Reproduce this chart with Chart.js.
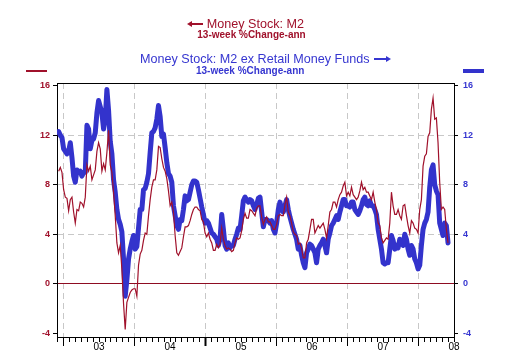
<!DOCTYPE html>
<html><head><meta charset="utf-8">
<script src="https://cdn.jsdelivr.net/npm/chart.js@4.4.1/dist/chart.umd.min.js"></script>
<style>
html,body{margin:0;padding:0;background:#fff;}
#wrap{position:relative;width:510px;height:360px;overflow:hidden;font-family:'Liberation Sans',Arial,Helvetica,sans-serif;}
canvas{position:absolute;left:0;top:0;}
.t{position:absolute;white-space:nowrap;line-height:1;}
.red{color:#a0112b;}
.blue{color:#3636d0;}
.big{font-size:12.6px;}
.small{font-size:10px;font-weight:bold;}
.ln{position:absolute;}
.head{position:absolute;width:0;height:0;border-top:3px solid transparent;border-bottom:3px solid transparent;}
</style></head><body>
<div id="wrap">
<canvas id="c" width="510" height="360"></canvas>
<div class="ln" style="left:190px;top:23.3px;width:13px;height:1.4px;background:#a0112b"></div>
<div class="head" style="left:187px;top:20.8px;border-right:5px solid #a0112b"></div>
<div class="t red big" style="left:206.7px;top:17.5px">Money Stock: M2</div>
<div class="t red small" style="left:197.3px;top:30.3px">13-week %Change-ann</div>
<div class="t blue big" style="left:140px;top:52.5px">Money Stock: M2 ex Retail Money Funds</div>
<div class="ln" style="left:374px;top:58.3px;width:12px;height:1.4px;background:#3636d0"></div>
<div class="head" style="left:386px;top:56px;border-left:5px solid #3636d0"></div>
<div class="t blue small" style="left:196px;top:65.6px">13-week %Change-ann</div>
<div class="ln" style="left:26px;top:70.4px;width:21px;height:1.2px;background:#a0112b"></div>
<div class="ln" style="left:463px;top:69px;width:21px;height:4px;background:#3333cc"></div>
</div>
<script>
// Sample dates (decimal years), roughly every 8.6 days from early Dec 2002
const firstSample = 2002.9302;
const sampleStep = 0.023443;

// Money Stock: M2, 13-week % change annualized (left axis)
const m2Values = [
  9.1,9.4,9.0,7.6,7.0,6.9,5.9,6.8,7.0,5.8, 4.9,6.0,5.9,6.6,6.5,6.2,7.0,9.6,9.1,9.5,
  8.4,8.8,9.2,10.7,11.4,10.9,9.1,9.7,9.2,10.6, 12.4,9.6,9.0,7.4,5.5,3.3,2.5,3.1,1.2,-1.6,
  -3.7,-1.5,-1.1,-0.7,-0.5,-0.4,-0.4,-1.0,
  1.5,2.4,2.7,3.5,4.1,4.0,5.5,6.8,7.8,8.4, 8.4,9.2,11.1,11.0,10.1,9.4,9.1,8.5,7.5,6.3,
  6.6,5.8,3.9,2.5,2.3,2.6,2.9,3.8,4.6,4.6, 4.7,5.1,5.6,6.0,6.2,6.2,6.0,5.9,5.2,5.0,
  4.1,3.8,4.1,3.6,3.3,2.7,2.7,3.2,
  2.9,3.2,4.5,3.6,3.1,2.8,2.9,2.8,2.6,2.7, 3.3,3.7,3.6,3.7,4.3,5.2,5.7,5.3,5.3,6.0,
  5.9,5.7,5.5,6.1,6.3,6.3,5.4,4.8,5.2,5.4, 5.0,5.0,4.7,4.4,4.4,4.8,5.5,5.6,5.5,5.5,
  6.4,7.0,5.8,5.5,4.9,4.2,4.0,3.9,
  3.2,3.3,2.9,2.1,2.1,3.3,3.6,4.4,5.2,5.2, 4.1,4.4,4.7,4.5,4.7,4.9,4.4,3.7,4.7,5.8,
  6.0,6.6,6.6,6.2,6.8,7.2,7.4,7.9,8.2,7.1, 7.4,7.1,7.8,7.2,7.0,6.8,7.0,7.5,8.2,7.6,
  7.8,7.4,7.4,7.1,6.8,7.4,6.6,6.0,
  4.9,4.7,3.7,3.3,3.5,3.7,3.6,4.9,7.4,6.3, 5.6,5.6,6.0,5.5,5.2,6.3,6.4,5.5,4.7,4.1,
  5.1,4.9,4.5,4.4,4.1,6.0,6.8,9.5,10.3,10.5, 11.9,12.2,14.1,15.0,13.3,13.4,11.4,8.2,6.0,6.2,
  6.0,4.4,3.3
];

// Money Stock: M2 ex Retail Money Funds, 13-week % change annualized (right axis)
const m2exValues = [
  12.3,12.0,11.8,10.9,10.7,10.5,10.7,11.4,10.2,8.7, 8.2,9.2,9.0,9.1,8.7,9.0,9.0,12.8,12.5,10.9,
  11.6,11.7,12.2,13.8,14.8,14.3,13.8,12.5,13.3,15.7, 14.0,11.5,10.5,8.4,7.4,6.0,5.2,4.8,4.2,2.0,
  -1.0,0.3,2.0,2.8,3.4,3.9,2.8,3.0,
  4.5,6.0,6.0,7.6,7.7,8.2,8.9,10.6,12.2,12.3, 12.6,13.3,14.4,13.5,11.9,12.1,11.0,9.8,8.9,8.7,
  8.2,6.3,5.5,4.7,4.4,5.2,5.1,6.0,7.1,6.7, 6.8,7.4,8.0,8.3,8.3,8.2,7.6,6.9,6.2,5.6,
  4.9,5.1,4.9,4.5,4.1,4.0,3.8,3.6,
  3.1,3.6,5.6,4.4,3.1,2.8,3.3,2.9,3.1,3.1, 3.6,4.0,4.5,4.4,5.5,6.7,7.0,6.8,6.6,6.8,
  6.7,6.3,6.0,6.4,6.9,7.0,5.8,4.6,5.2,5.2, 5.1,4.9,5.1,4.4,4.1,4.9,6.0,6.6,6.0,5.8,
  6.3,6.8,6.0,5.4,4.9,4.4,4.0,3.6,
  2.8,3.1,2.3,1.7,1.3,2.5,2.8,3.2,3.1,2.8, 2.5,1.7,2.8,3.1,3.3,3.6,3.1,2.5,3.6,4.1,
  4.7,4.9,5.2,5.5,5.2,5.8,6.3,6.8,6.8,6.3, 6.3,6.2,6.6,6.6,6.0,5.8,5.6,5.9,6.3,6.8,
  7.0,6.4,6.3,6.7,6.3,6.3,6.0,5.6,
  4.4,3.6,2.8,1.7,1.6,1.7,1.7,2.8,3.9,3.5, 2.8,3.1,2.9,3.6,3.3,3.1,4.0,3.6,2.8,2.3,
  3.1,2.8,2.0,1.7,1.2,1.5,3.1,4.4,4.9,5.2, 5.8,7.8,9.2,9.6,8.0,7.5,7.2,4.9,4.4,3.9,
  4.9,4.7,3.3
];

const yTickValues = [-4, 0, 4, 8, 12, 16];
const yearLabels = ['03', '04', '05', '06', '07', '08'];
const X_MIN = 2002.907, X_MAX = 2008.5;
const Y_MIN = -4.3, Y_MAX = 16.22;

const sampleDates = m2Values.map((_, i) => firstSample + i * sampleStep);

// monthly tick positions
const monthTicks = [];
for (let yr = 2002; yr <= 2008; yr++) {
  for (let m = 0; m < 12; m++) {
    const v = yr + m / 12;
    if (v >= X_MIN - 1e-9 && v <= X_MAX + 1e-9) monthTicks.push(v);
  }
}
const monthOf = v => Math.round((v - Math.floor(v + 1e-6)) * 12) % 12;
const isYear = v => monthOf(v) === 0;

const RED = '#a0112b', BLUE = '#3333cc', BLUE_TXT = '#3636d0';
Chart.defaults.font.family = "'Liberation Sans', Arial, Helvetica, sans-serif";

new Chart(document.getElementById('c'), {
  type: 'line',
  data: {
    datasets: [
      { label: 'Money Stock: M2', data: sampleDates.map((d, i) => ({ x: d, y: m2Values[i] })),
        borderColor: RED, borderWidth: 1.2, pointRadius: 0, order: 0, yAxisID: 'y', clip: 0 },
      { label: 'Money Stock: M2 ex Retail Money Funds', data: sampleDates.slice(0, m2exValues.length).map((d, i) => ({ x: d, y: m2exValues[i] })),
        borderColor: BLUE, borderWidth: 5, pointRadius: 0, order: 1, yAxisID: 'y2', clip: 0,
        borderJoinStyle: 'round', borderCapStyle: 'round' }
    ]
  },
  options: {
    responsive: false, animation: false, devicePixelRatio: 1,
    layout: { padding: { left: 40, right: 37, top: 83, bottom: 7 } },
    plugins: { legend: { display: false }, tooltip: { enabled: false }, title: { display: false } },
    scales: {
      x: {
        type: 'linear', position: 'bottom', min: X_MIN, max: X_MAX,
        afterBuildTicks: s => { s.ticks = monthTicks.map(v => ({ value: v })); },
        afterFit: s => { s.height = 16; },
        ticks: {
          autoSkip: false, maxRotation: 0, minRotation: 0, padding: -5, color: '#000',
          font: { size: 10 },
          callback: v => monthOf(v) === 6 ? yearLabels[Math.floor(v + 1e-6) - 2003] : ''
        },
        grid: {
          color: c => (c.tick && isYear(c.tick.value)) ? '#c8c8c8' : 'rgba(0,0,0,0)',
          lineWidth: 1, tickLength: 9, tickColor: '#000',
          tickWidth: c => (c.tick && Math.abs(c.tick.value - 2005) < 1e-6) ? 2 : 1,
          tickBorderDash: c => (c.tick && isYear(c.tick.value)) ? [] : [4, 30]
        },
        border: { display: true, color: '#000', width: 1, dash: [6, 4] }
      },
      xTop: {
        type: 'linear', position: 'top', min: X_MIN, max: X_MAX,
        ticks: { display: false }, grid: { drawOnChartArea: false, drawTicks: false },
        afterFit: s => { s.height = 0; },
        border: { display: true, color: '#000', width: 1 }
      },
      y: {
        position: 'left', min: Y_MIN, max: Y_MAX,
        afterBuildTicks: s => { s.ticks = yTickValues.map(v => ({ value: v })); },
        afterFit: s => { s.width = 17; },
        ticks: { color: RED, font: { size: 9, weight: 'bold' }, padding: 3 },
        grid: {
          color: c => {
            if (!c.tick) return 'rgba(0,0,0,0)';
            const v = c.tick.value;
            if (v === 0) return '#8e0c22';
            if (v === -4 || v === 16) return 'rgba(0,0,0,0)';
            return '#c8c8c8';
          },
          lineWidth: 1, tickLength: 4, tickColor: '#000', tickWidth: 1, tickBorderDash: []
        },
        border: { display: true, color: '#000', width: 1,
          dash: c => (c.tick && c.tick.value === 0) ? [] : [6, 4] }
      },
      y2: {
        position: 'right', min: Y_MIN, max: Y_MAX,
        afterBuildTicks: s => { s.ticks = yTickValues.map(v => ({ value: v })); },
        afterFit: s => { s.width = 19; },
        ticks: { color: BLUE_TXT, font: { size: 9, weight: 'bold' }, padding: 5 },
        grid: { drawOnChartArea: false, tickLength: 4, tickColor: '#000', tickWidth: 1, lineWidth: 1 },
        border: { display: true, color: '#000', width: 1 }
      }
    }
  }
});
</script>
</body></html>
